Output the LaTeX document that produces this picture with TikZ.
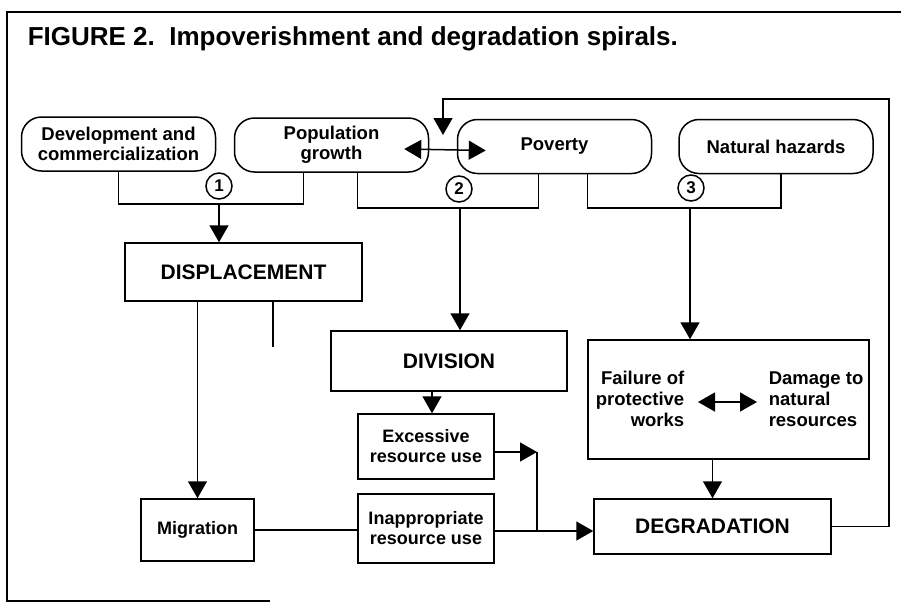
\documentclass[tikz,border=0pt]{standalone}
\usepackage{fontspec}
\setmainfont{Liberation Sans}
\usetikzlibrary{arrows.meta}

\tikzset{
  pill/.style={draw, rounded corners=20pt, minimum width=194pt, minimum height=54pt,
    inner sep=0pt, align=center, font=\bfseries\fontsize{18.5}{20}\selectfont},
  bigbox/.style={draw, inner sep=0pt, align=center, font=\bfseries\fontsize{21}{24}\selectfont},
  smallbox/.style={draw, inner sep=0pt, align=center, font=\bfseries\fontsize{18}{20}\selectfont},
  plain/.style={inner sep=0pt, font=\bfseries\fontsize{18.5}{21}\selectfont},
  num/.style={draw, circle, minimum size=26pt, inner sep=0pt, font=\bfseries\fontsize{17}{17}\selectfont}
}

\begin{document}
\begin{tikzpicture}[x=1pt, y=-1pt, line width=1.5pt, >={Triangle[length=17pt,width=19pt]}]
  \useasboundingbox (0,0) rectangle (901,603);

  % frame and title
  \draw (901,12) -- (7,12) -- (7,601) -- (270,601);
  \node[anchor=base west, inner sep=0pt, font=\bfseries\fontsize{26}{30}\selectfont] (title) at (27,45)
    {FIGURE 2.\ \ Impoverishment and degradation spirals.};

  % top row of causes
  \node[pill] (dev) at (118.5,144) {Development and\\commercialization};
  \node[pill] (pop) at (331.5,145) {Population\\growth};
  \node[pill] (pov) at (554.5,146.5) {Poverty};
  \node[pill] (haz) at (776,146.5) {Natural hazards};

  % boxes
  \node[bigbox, minimum width=237pt, minimum height=58pt] (disp) at (243.5,272) {DISPLACEMENT};
  \node[bigbox, minimum width=236pt, minimum height=60pt] (div) at (449,361) {DIVISION};
  \node[smallbox, minimum width=136pt, minimum height=65pt] (exc) at (426,446.5) {Excessive\\resource use};
  \node[smallbox, minimum width=136pt, minimum height=69pt] (inap) at (426,528.5) {Inappropriate\\resource use};
  \node[smallbox, minimum width=113pt, minimum height=62pt] (mig) at (197.5,530) {Migration};
  \node[draw, minimum width=281pt, minimum height=119pt] (fail) at (728.5,399.5) {};
  \node[plain, anchor=east, align=right] (works) at (685,399) {Failure of\\protective\\works};
  \node[plain, anchor=west, align=left] (dam) at (768,399) {Damage to\\natural\\resources};
  \node[bigbox, minimum width=237pt, minimum height=55pt] (deg) at (712.5,526.5) {DEGRADATION};

  % numbered spirals
  \node[num] (n1) at (219,186) {1};
  \node[num] (n2) at (459,189) {2};
  \node[num] (n3) at (691,188) {3};

  % brackets
  \coordinate (b1) at (219,204);
  \coordinate (b2) at (460,208);
  \coordinate (b3) at (690,208);
  \draw (dev.south) |- (b1) -| ([xshift=-28pt]pop.south);
  \draw[->] (b1) -- (disp.north -| b1);
  \draw ([xshift=26pt]pop.south) |- (b2) -| ([xshift=-16pt]pov.south);
  \draw[->] (b2) -- (div.north -| b2);
  \draw ([xshift=33pt]pov.south) |- (b3) -| ([xshift=5pt]haz.south);
  \draw[->] (b3) -- (fail.north -| b3);

  \draw[<->] ([xshift=-25pt,yshift=-4pt]pop.east) -- ([xshift=29pt,yshift=-4pt]pov.west);
  \draw[<->] ([xshift=13pt,yshift=-3pt]works.east) -- ([xshift=-11pt,yshift=-3pt]dam.west);

  % lower connections
  \coordinate (stub) at (273,347);
  \draw (disp.south -| stub) -- (stub);
  \draw[->] (disp.south -| mig.north) -- (mig.north);
  \coordinate (e1) at ([xshift=6pt]exc.north);
  \draw[->] (div.south -| e1) -- (e1);
  \draw (mig.east) -- (mig.east -| inap.west);
  \coordinate (j1) at (537,452);
  \coordinate (j2) at (537,531);
  \draw[->] (exc.east |- j1) -- (j1);
  \draw (j1) -- (j2);
  \draw[->] (inap.east |- j2) -- (deg.west |- j2);
  \draw[->] (fail.south -| deg.north) -- (deg.north);

  % feedback loop
  \coordinate (loopR) at (889,99);
  \coordinate (loopin) at (443,135);
  \draw[->] (deg.east) -| (loopR) -| (loopin);
\end{tikzpicture}
\end{document}
